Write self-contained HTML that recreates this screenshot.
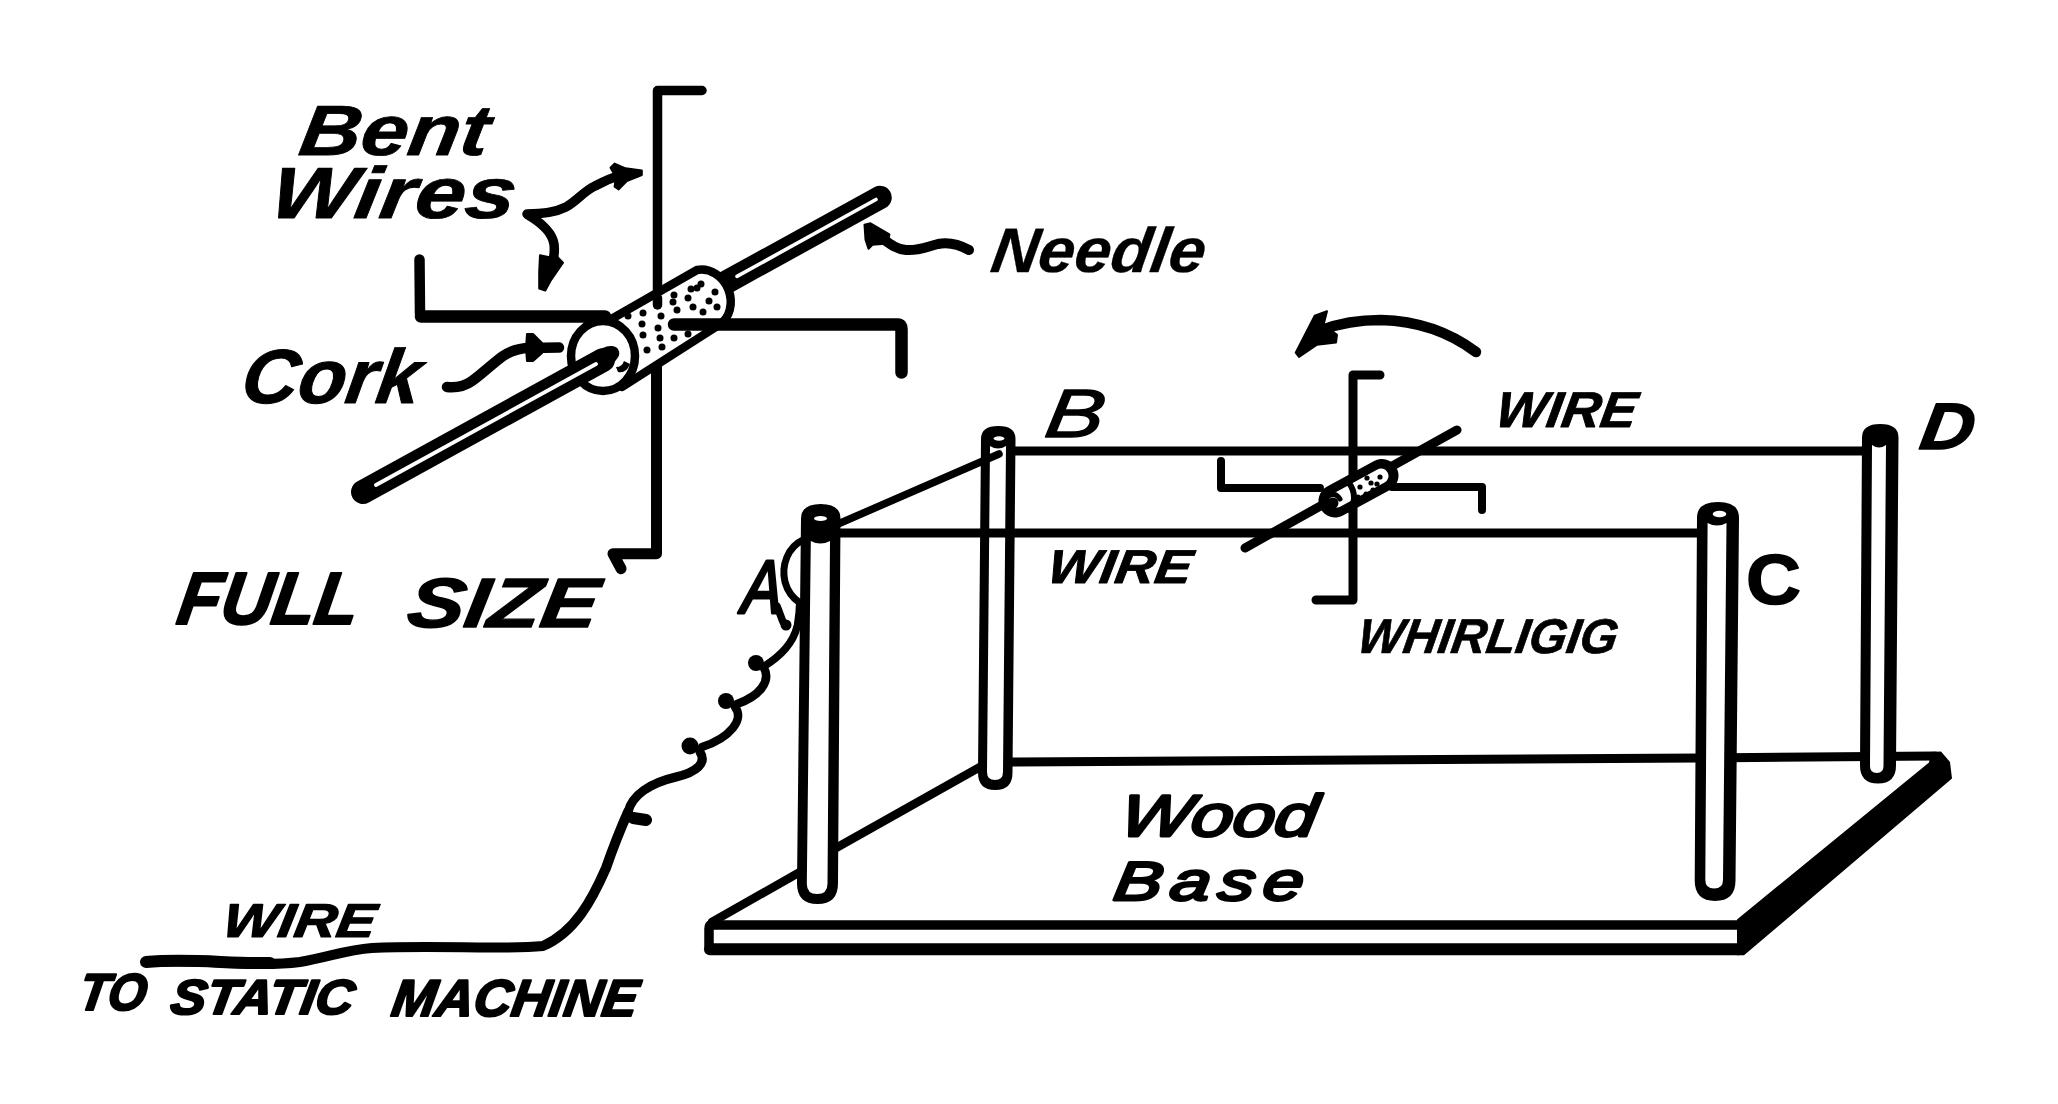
<!DOCTYPE html>
<html lang="en"><head><meta charset="utf-8"><title>Whirligig — static electricity experiment</title>
<style>
html,body{margin:0;padding:0;background:#fff;}
body{width:2058px;height:1104px;overflow:hidden;}
svg{display:block;}
text{font-family:"Liberation Sans",sans-serif;font-style:italic;fill:#000;}
.l{fill:none;stroke:#000;stroke-linecap:round;stroke-linejoin:round;}
.w{fill:#fff;stroke:#000;stroke-linecap:round;stroke-linejoin:round;}
.k{fill:#000;stroke:none;}
</style></head><body>
<svg width="2058" height="1104" viewBox="0 0 2058 1104">
<rect width="2058" height="1104" fill="#fff"/>

<g id="fullsize">
<path class="l" stroke-width="23.5" d="M722,284.6 L880,197.5"/>
<path class="l" stroke="#fff" style="stroke:#fff" stroke-width="3.6" d="M737,276.4 L876,199.5"/>
<path class="l" stroke-width="9.5" d="M702,90.5 H657.5 V300"/>
<path class="l" stroke-width="11" d="M656.5,360 V553.7 H613 l8,15"/>
<path class="l" stroke-width="10.5" d="M419.5,259.5 L420,314"/>
<path class="l" stroke-width="12.5" d="M421,316.5 H605"/>
<path class="w" stroke-width="8.5" d="M594,329 L697,270 A30,26 68 0 1 719,325 L622,387 Z"/>
<path class="l" stroke-width="9.5" d="M657.5,298 V305"/>
<path class="l" stroke-width="12.5" d="M674,324.5 H898 Q901.5,324.5 901.5,329 L901.5,372.5"/>
<circle class="k" cx="628" cy="316" r="3.5"/>
<circle class="k" cx="643" cy="313" r="3.5"/>
<circle class="k" cx="642" cy="324" r="3.5"/>
<circle class="k" cx="643" cy="335" r="3.5"/>
<circle class="k" cx="647" cy="350" r="3.5"/>
<circle class="k" cx="661" cy="316" r="3.5"/>
<circle class="k" cx="658" cy="328" r="3.5"/>
<circle class="k" cx="660" cy="338" r="3.5"/>
<circle class="k" cx="662" cy="347" r="3.5"/>
<circle class="k" cx="674" cy="295" r="3.5"/>
<circle class="k" cx="673" cy="302" r="3.5"/>
<circle class="k" cx="677" cy="310" r="3.5"/>
<circle class="k" cx="674" cy="338" r="3.5"/>
<circle class="k" cx="688" cy="298" r="3.5"/>
<circle class="k" cx="693" cy="307" r="3.5"/>
<circle class="k" cx="691" cy="289" r="3.5"/>
<circle class="k" cx="703" cy="312" r="3.5"/>
<circle class="k" cx="709" cy="301" r="3.5"/>
<circle class="k" cx="715" cy="292" r="3.5"/>
<circle class="k" cx="717" cy="307" r="3.5"/>
<circle class="k" cx="701" cy="284" r="3.5"/>
<circle class="k" cx="697" cy="288" r="3.5"/>
<circle class="k" cx="688" cy="334" r="3.5"/>
<ellipse class="w" stroke-width="8.5" cx="603" cy="356" rx="32" ry="35"/>
<ellipse class="k" cx="607" cy="356" rx="13" ry="9" transform="rotate(-28 607 356)"/>
<path class="k" d="M618,372 q8,2 12,-8 l-6,-3 q-2,6 -8,6 z"/>
<path class="l" stroke-width="24" d="M363,492 L603,360"/>
<path class="l" style="stroke:#fff" stroke-width="3.8" d="M376,485 L596,364"/>
<path class="l" stroke-width="9.5" d="M527,214 C545,214 556,212 566,207 C578,200 584,191 595,186 C606,180 614,177 624,174"/>
<path class="k" stroke="#000" stroke-width="2" stroke-linejoin="round" style="stroke:#000" d="M641.8,170.4 L641.8,175 L626.8,181 L618.7,189.4 L614.6,186.7 L616,177 L610.5,167.7 L614.6,163.6 L625.5,168.3 Z"/>
<path class="l" stroke-width="9.5" d="M528,215 C540,222 552,232 554,244 C555,252 554,258 552,266"/>
<path class="k" stroke="#000" stroke-width="2" stroke-linejoin="round" style="stroke:#000" d="M540,255.3 L549.4,257.3 L557.6,257.3 L563,262.8 L550.8,280.4 L545.3,290.6 L539.2,288.6 L539.2,272.3 Z"/>
<path class="l" stroke-width="10" d="M969,250 C958,244 948,242 938,244 C926,247 918,251 906,250 C896,249 890,244 882,238"/>
<path class="k" stroke="#000" stroke-width="2" stroke-linejoin="round" style="stroke:#000" d="M864.5,224.8 L870.5,223.3 L889.4,234.3 L888.4,239.8 L884.4,243.7 L872.5,244.7 L868.5,248.7 L865.5,239.8 Z"/>
<path class="l" stroke-width="10.5" d="M447,387 C457,388 465,386 472,381 C482,374 492,364 503,356 C512,350 520,348 530,348 L559,347.5"/>
<path class="k" stroke="#000" stroke-width="2" stroke-linejoin="round" style="stroke:#000" d="M527,334 L533,334 L542,343 L542,353 L533,361 L527,361 L526,348 Z"/>
</g>
<g id="apparatus">
<path class="l" stroke-width="8.5" d="M712,922 L800,872"/>
<path class="l" stroke-width="8.5" d="M836,848 L980,767"/>
<path class="l" stroke-width="9" d="M1010,762 L1700,758 L1935,756"/>
<path class="k" d="M1737,919.5 L1929,762.5 L1931,752 L1941,751.5 L1950,762 L1952,778.5 L1744,955.3 L1737,955.3 Z"/>
<path class="l" stroke-width="9.5" d="M1740,925 H711 Q709,925 709,929 V947"/>
<path class="l" stroke-width="12" d="M710,949.3 H1739"/>
<path class="l" stroke-width="9" d="M1012,451 H1866"/>
<path class="k" d="M981,438.9375 Q981,426 998.25,426 Q1015.5,426 1015.5,438.9375 L1012.5,772.75 Q1012.5,790 995.25,790 Q978,790 978,772.75 Z"/><path d="M990,446 Q998.0,451 1006.0,446 L1003.0,772.0 Q1003.0,780 995.0,780 Q987,780 987,772.0 Z" fill="#fff"/><ellipse cx="999" cy="438.5" rx="5.5" ry="2.2" fill="#fff"/>
<path class="l" stroke-width="7.5" d="M838,524 L999,454"/>
<path class="k" d="M1862,437.6875 Q1862,424 1880.25,424 Q1898.5,424 1898.5,437.6875 L1896.0,765.5 Q1896.0,783.5 1878.0,783.5 Q1860,783.5 1860,765.5 Z"/><path d="M1872,445 Q1879.0,450 1886.0,445 L1883.5,766.25 Q1883.5,773.0 1876.75,773.0 Q1870,773.0 1870,766.25 Z" fill="#fff"/>
<path class="l" stroke-width="9" d="M838,533 H1702"/>
<path class="l" stroke-width="9" d="M1380,375 H1353 V600 H1316"/>
<path class="l" stroke-width="8" d="M1221,461 V488 H1320"/>
<path class="l" stroke-width="8" d="M1392,487 H1482 V510"/>
<path class="l" stroke-width="9" d="M1245,548 L1457,430"/>
<path class="l" stroke-width="33" d="M1335,501 L1382,475.5"/>
<path class="l" style="stroke:#fff" stroke-width="15" d="M1337,500 L1381,476"/>
<path class="l" stroke-width="6" d="M1349,483 q9,12 2,28"/>
<circle class="k" cx="1333" cy="503" r="5.5"/>
<path class="l" stroke-width="5" d="M1327,497 q8,-6 13,2"/>
<circle class="k" cx="1360" cy="487" r="2.6"/>
<circle class="k" cx="1367" cy="478" r="2.6"/>
<circle class="k" cx="1373" cy="490" r="2.6"/>
<circle class="k" cx="1380" cy="477" r="2.6"/>
<circle class="k" cx="1358" cy="497" r="2.6"/>
<circle class="k" cx="1371" cy="483" r="2.6"/>
<circle class="k" cx="1366" cy="494" r="2.6"/>
<circle class="k" cx="1377" cy="484" r="2.6"/>
<path class="k" d="M801,518.8125 Q801,504 820.75,504 Q840.5,504 840.5,518.8125 L838.0,883.5 Q838.0,904 817.5,904 Q797,904 797,883.5 Z"/><path d="M810.8,541 Q820.4,546 830.0,541 L827.5,883.65 Q827.5,894 817.15,894 Q806.8,894 806.8,883.65 Z" fill="#fff"/><ellipse cx="820.5" cy="518.5" rx="6.5" ry="2.4" fill="#fff"/>
<path class="k" d="M1697,517.75 Q1697,502 1718.0,502 Q1739,502 1739,517.75 L1735.5,880.6 Q1735.5,901 1715.1,901 Q1694.7,901 1694.7,880.6 Z"/><path d="M1707.6,523 Q1717.05,528 1726.5,523 L1723.0,879.65 Q1723.0,888.5 1714.15,888.5 Q1705.3,888.5 1705.3,879.65 Z" fill="#fff"/><ellipse cx="1719.5" cy="514" rx="6.8" ry="3.2" fill="#fff"/>
<path class="l" stroke-width="10.5" d="M1476,352 C1452,334 1420,321 1381,320 C1358,320 1340,323 1322,330"/>
<path class="k" stroke="#000" stroke-width="2" stroke-linejoin="round" style="stroke:#000" d="M1295.7,352.6 L1314.7,315.7 L1327,311.2 L1323.6,324.6 L1337,334.7 L1336,342.5 L1317,344.7 L1299,357 Z"/>
</g>
<path class="l" stroke-width="12" d="M146,962 C190,958 230,964 270,963"/>
<path class="l" stroke-width="10" d="M146,962 C200,958 250,968 300,962 C330,957 345,950 372,948 C440,945 500,950 543,946 C575,932 592,900 606,868 C614,845 620,830 628,812"/>
<path class="l" stroke-width="12" d="M633,818 L646,820"/>
<path class="l" stroke-width="9" d="M628,812 C632,795 650,783 676,777 C697,772 707,763 700,752"/>
<circle class="k" cx="690" cy="746" r="8.5"/>
<path class="l" stroke-width="8.5" d="M735,707 C745,719 730,738 702,747"/>
<circle class="k" cx="726" cy="701" r="8"/>
<path class="l" stroke-width="8.5" d="M764,668 C771,681 760,696 737,704"/>
<circle class="k" cx="756" cy="663" r="8"/>
<path class="l" stroke-width="7.5" d="M763,667 C781,656 793,643 797,627"/>
<circle class="k" cx="786" cy="625" r="5.5"/>
<path class="l" stroke-width="7.5" d="M777,606 L783,622"/>
<path class="l" stroke-width="7" d="M803,540 C788,547 781,565 785,582 C788,593 794,599 800,603"/>
<path class="l" stroke-width="6.5" d="M799,606 C799,616 797,622 797,626"/>
<text transform="translate(297,155) skewX(-9) scale(1.1935,1)" x="0" y="0" font-size="71.2" font-weight="700" stroke="#000" stroke-width="0.8" stroke-linejoin="round" letter-spacing="0.00">Bent</text>
<text transform="translate(268,218) skewX(-9) scale(1.2416,1)" x="0" y="0" font-size="72.6" font-weight="700" stroke="#000" stroke-width="0.8" stroke-linejoin="round" letter-spacing="0.00">Wires</text>
<text transform="translate(989,272) skewX(-9) scale(1.0377,1)" x="0" y="0" font-size="62.8" font-weight="700" stroke="#000" stroke-width="0.3" stroke-linejoin="round" letter-spacing="-0.00">Needle</text>
<text transform="translate(239,403) skewX(-9) scale(1.0187,1)" x="0" y="0" font-size="76.8" font-weight="700" stroke="#000" stroke-width="1.0" stroke-linejoin="round" letter-spacing="0.00">Cork</text>
<text transform="translate(175,624) skewX(-9) scale(0.9550,1)" x="0" y="0" font-size="74.0" font-weight="700" stroke="#000" stroke-width="2.2" stroke-linejoin="round" letter-spacing="0.00">FULL</text>
<text transform="translate(405,627) skewX(-9) scale(1.2246,1)" x="0" y="0" font-size="69.8" font-weight="700" stroke="#000" stroke-width="1.4" stroke-linejoin="round" letter-spacing="0.00">SIZE</text>
<text transform="translate(1043,437) skewX(-9) scale(1.2758,1)" x="0" y="0" font-size="68.4" font-weight="400" stroke="#000" stroke-width="1.4" stroke-linejoin="round" letter-spacing="0.00">B</text>
<text transform="translate(1918,449) skewX(-9) scale(1.1297,1)" x="0" y="0" font-size="65.6" font-weight="700" stroke="#000" stroke-width="1.5" stroke-linejoin="round" letter-spacing="0.00">D</text>
<text transform="translate(741,613) skewX(-4) scale(0.7996,1)" x="0" y="0" font-size="75.4" font-weight="400" stroke="#000" stroke-width="3.2" stroke-linejoin="round" letter-spacing="0.00">A</text>
<text transform="translate(1746,604) skewX(0) scale(1.0692,1)" x="0" y="0" font-size="71.2" font-weight="700" font-style="normal" style="font-style:normal" stroke="#000" stroke-width="1.5" stroke-linejoin="round" letter-spacing="0.00">C</text>
<text transform="translate(1046,583) skewX(-9) scale(1.1584,1)" x="0" y="0" font-size="47.5" font-weight="700" stroke="#000" stroke-width="0.9" stroke-linejoin="round" letter-spacing="0.00">WIRE</text>
<text transform="translate(1494,427) skewX(-9) scale(1.0688,1)" x="0" y="0" font-size="50.3" font-weight="700" stroke="#000" stroke-width="0.9" stroke-linejoin="round" letter-spacing="0.00">WIRE</text>
<text transform="translate(1356,653) skewX(-9) scale(0.9851,1)" x="0" y="0" font-size="48.9" font-weight="700" stroke="#000" stroke-width="0.7" stroke-linejoin="round" letter-spacing="0.00">WHIRLIGIG</text>
<text transform="translate(1118,836) skewX(-9) scale(1.2813,1)" x="0" y="0" font-size="58.7" font-weight="400" stroke="#000" stroke-width="2.8" stroke-linejoin="round" letter-spacing="0.00">Wood</text>
<text transform="translate(1112,900) skewX(-9) scale(1.3200,1)" x="0" y="0" font-size="54.5" font-weight="400" stroke="#000" stroke-width="2.9" stroke-linejoin="round" letter-spacing="6.30">Base</text>
<text transform="translate(221,937) skewX(-9) scale(1.2310,1)" x="0" y="0" font-size="47.5" font-weight="700" stroke="#000" stroke-width="1.2" stroke-linejoin="round" letter-spacing="0.00">WIRE</text>
<text transform="translate(77,1010) skewX(-9) scale(0.9479,1)" x="0" y="0" font-size="51.7" font-weight="700" stroke="#000" stroke-width="2.2" stroke-linejoin="round" letter-spacing="0.00">TO</text>
<text transform="translate(169,1014) skewX(-9) scale(1.0780,1)" x="0" y="0" font-size="48.9" font-weight="700" stroke="#000" stroke-width="2.2" stroke-linejoin="round" letter-spacing="0.00">STATIC</text>
<text transform="translate(390,1016) skewX(-9) scale(1.0165,1)" x="0" y="0" font-size="51.7" font-weight="700" stroke="#000" stroke-width="2.2" stroke-linejoin="round" letter-spacing="-0.00">MACHINE</text>
</svg>
</body></html>
